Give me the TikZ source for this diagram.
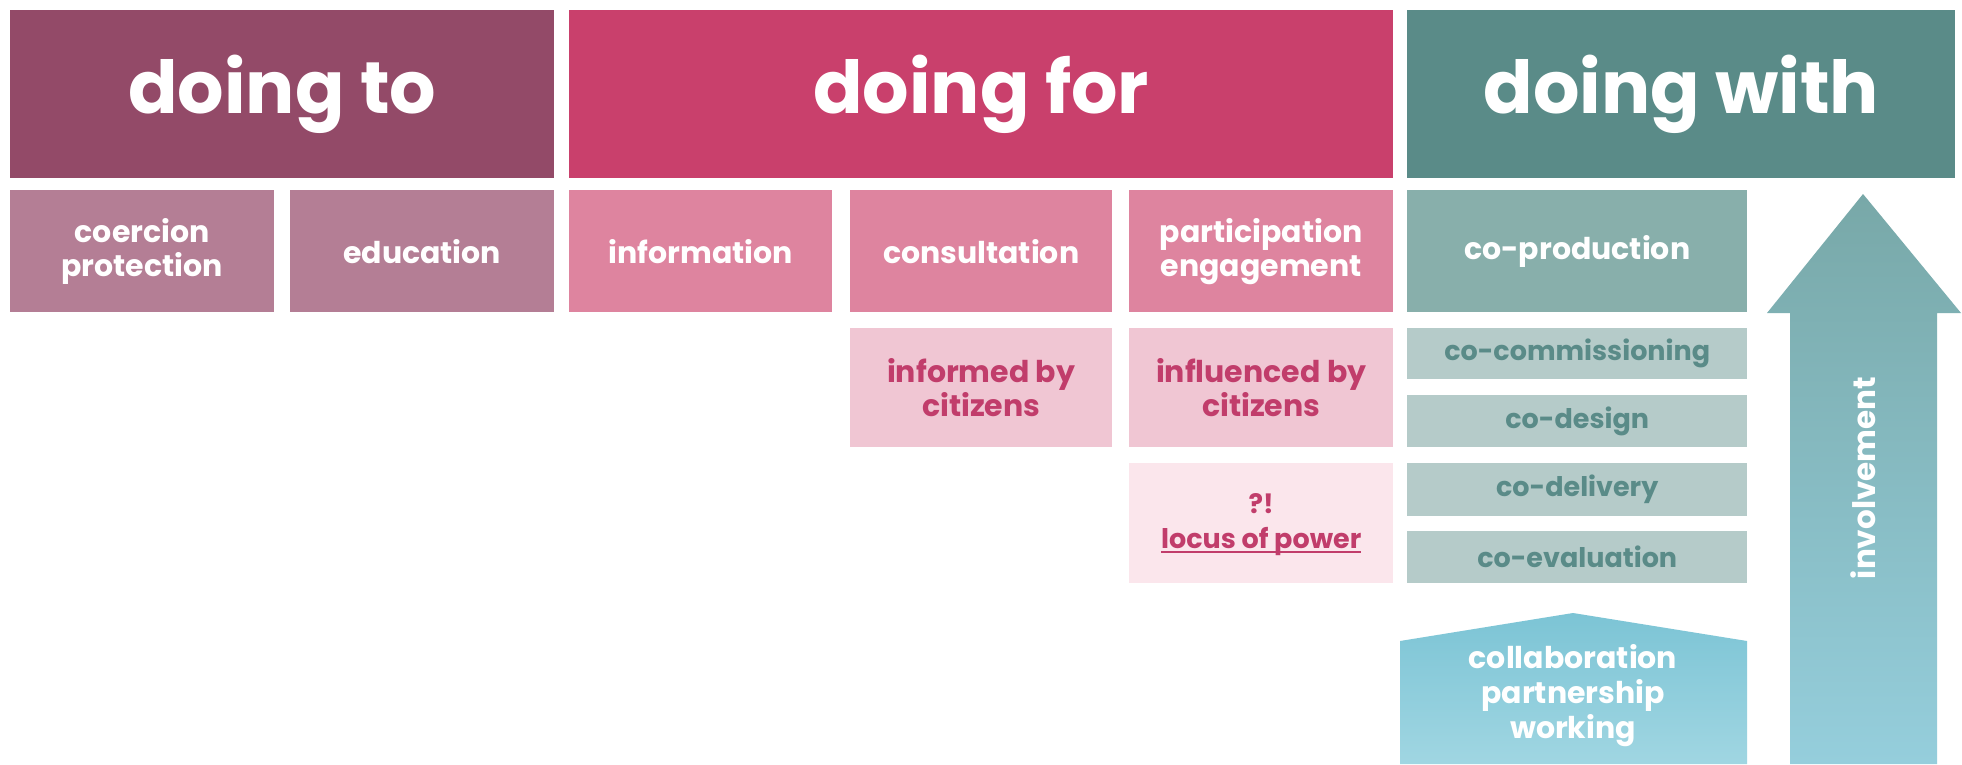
\documentclass[tikz,border=0pt]{standalone}
\usepackage{fontspec}
\setmainfont{Poppins}
\usetikzlibrary{positioning}
\definecolor{toDark}{HTML}{934A68}
\definecolor{forDark}{HTML}{C9406C}
\definecolor{withDark}{HTML}{5A8B88}
\definecolor{toMid}{HTML}{B47E95}
\definecolor{forMid}{HTML}{DE849F}
\definecolor{forLight}{HTML}{F0C6D3}
\definecolor{forPale}{HTML}{FBE6EC}
\definecolor{forText}{HTML}{C13D6B}
\definecolor{withMid}{HTML}{88AFAB}
\definecolor{withLight}{HTML}{B5CBC9}
\definecolor{collabTop}{HTML}{7CC4D5}
\definecolor{collabBot}{HTML}{A0D6E2}
\definecolor{arrowTop}{HTML}{78A8A8}
\definecolor{arrowBot}{HTML}{95CEDC}
\newcommand\thickul[1]{\vtop{\hbox{#1}\kern-5pt\hrule height 2.5pt}}
\tikzset{
  cell/.style={rectangle, draw=none, inner sep=0pt, anchor=north west, align=center, font=\bfseries\fontsize{30}{34}\selectfont},
  header/.style={cell, text=white, font=\bfseries\fontsize{73}{80}\selectfont},
  subcell/.style={cell, text=white},
  lightcell/.style={cell, text=forText},
  cocell/.style={cell, text=withDark, font=\bfseries\fontsize{27}{32}\selectfont},
}
\begin{document}
\begin{tikzpicture}[x=1pt,y=-1pt]
\useasboundingbox[fill=white] (0,0) rectangle (1962,764);
% headers
\node[header, fill=toDark, minimum width=544pt, minimum height=168pt] (to) at (10,10) {doing to};
\node[header, fill=forDark, minimum width=824pt, minimum height=168pt] (for) at (569,10) {doing for};
\node[header, fill=withDark, minimum width=548pt, minimum height=168pt] (with) at (1407,10) {doing with};
% row 2
\node[subcell, fill=toMid, minimum width=264pt, minimum height=122pt] (coercion) at (10,190) {coercion\\protection};
\node[subcell, fill=toMid, minimum width=264pt, minimum height=122pt] (education) at (290,190) {education};
\node[subcell, fill=forMid, minimum width=263pt, minimum height=122pt] (information) at (569,190) {information};
\node[subcell, fill=forMid, minimum width=262pt, minimum height=122pt] (consultation) at (850,190) {consultation};
\node[subcell, fill=forMid, minimum width=264pt, minimum height=122pt] (participation) at (1129,190) {participation\\engagement};
\node[subcell, fill=withMid, minimum width=340pt, minimum height=122pt] (coproduction) at (1407,190) {co-production};
% row 3
\node[lightcell, fill=forLight, minimum width=262pt, minimum height=119pt] (informed) at (850,328) {informed by\\citizens};
\node[lightcell, fill=forLight, minimum width=264pt, minimum height=119pt] (influenced) at (1129,328) {influenced by\\citizens};
\node[lightcell, fill=forPale, minimum width=264pt, minimum height=120pt, font=\bfseries\fontsize{27}{35}\selectfont] (locus) at (1129,463) {?!\\\thickul{locus of power}};
% co- boxes
\node[cocell, fill=withLight, minimum width=340pt, minimum height=51pt] (cocomm) at (1407,328) {co-commissioning};
\node[cocell, fill=withLight, minimum width=340pt, minimum height=52pt] (codesign) at (1407,395) {co-design};
\node[cocell, fill=withLight, minimum width=340pt, minimum height=53pt] (codelivery) at (1407,463) {co-delivery};
\node[cocell, fill=withLight, minimum width=340pt, minimum height=52pt] (coeval) at (1407,531) {co-evaluation};
% collaboration pentagon
\shade[top color=collabTop, bottom color=collabBot] (1400,641) -- (1573,613) -- (1747,641) -- (1747,764) -- (1400,764) -- cycle;
\node[cell, anchor=center, text=white, font=\bfseries\fontsize{30}{35}\selectfont] (collab) at (1573,696) {collaboration\\partnership\\working};
% involvement arrow
\shade[top color=arrowTop, bottom color=arrowBot] (1863,194) -- (1961,313) -- (1937,313) -- (1937,764) -- (1790,764) -- (1790,313) -- (1767,313) -- cycle;
\node[cell, anchor=center, text=white, rotate=90, font=\bfseries\fontsize{31}{34}\selectfont] (involvement) at (1863,478) {involvement};
\end{tikzpicture}
\end{document}
